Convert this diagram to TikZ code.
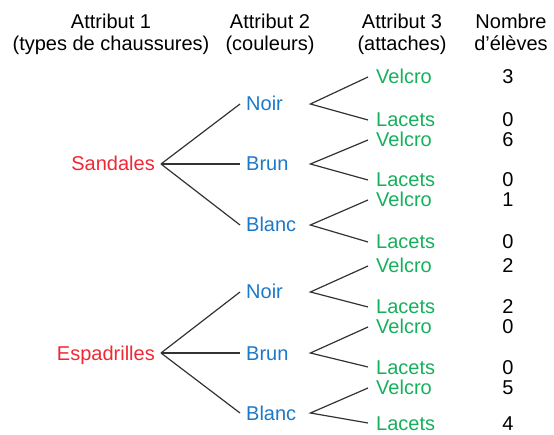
\documentclass[tikz,border=0pt]{standalone}
\usepackage{fontspec}
\setmainfont{Liberation Sans}
\definecolor{typered}{RGB}{240,40,52}
\definecolor{colblue}{RGB}{28,120,200}
\definecolor{attgreen}{RGB}{22,176,92}
\begin{document}
\begin{tikzpicture}[x=1pt,y=-1pt,
	lab/.style={font=\fontsize{20}{22}\selectfont, text height=14pt, text depth=0pt, inner ysep=0pt},
	head/.style={font=\fontsize{20}{22}\selectfont, align=center, anchor=north, inner sep=0pt},
	type/.style={lab, text=typered, anchor=east, inner xsep=6pt},
	colour/.style={lab, text=colblue, anchor=west, inner xsep=6pt, text width=58pt, align=left},
	attach/.style={lab, text=attgreen, anchor=west, inner xsep=8pt},
	count/.style={lab, inner xsep=0pt},
	branch/.style={draw=black!80, line width=1.2pt}]
	\useasboundingbox (0,0) rectangle (554,435);
	% column heads
	\node[head] (h1) at (111,14) {Attribut 1\\(types de chaussures)};
	\node[head] (h2) at (270,14) {Attribut 2\\(couleurs)};
	\node[head] (h3) at (402,14) {Attribut 3\\(attaches)};
	\node[head] (h4) at (511,14) {Nombre\\d'élèves};
	% sandales
	\node[type] (sand) at (161,164) {Sandales};
	\node[colour] (noir1) at (240,104) {Noir};
	\node[colour] (brun1) at (240,164) {Brun};
	\node[colour] (blanc1) at (240,225) {Blanc};
	\node[attach] (vel1) at (368,77) {Velcro};
	\node[attach] (lac1) at (368,120) {Lacets};
	\node[attach] (vel2) at (368,140) {Velcro};
	\node[attach] (lac2) at (368,180) {Lacets};
	\node[attach] (vel3) at (368,200) {Velcro};
	\node[attach] (lac3) at (368,242) {Lacets};
	\draw[branch] (sand.east) -- (noir1.west);
	\draw[branch] (sand.east) -- (brun1.west);
	\draw[branch] (sand.east) -- (blanc1.west);
	\draw[branch] (vel1.west) -- (noir1.east) -- (lac1.west);
	\draw[branch] (vel2.west) -- (brun1.east) -- (lac2.west);
	\draw[branch] (vel3.west) -- (blanc1.east) -- (lac3.west);
	% espadrilles
	\node[type] (espa) at (161,353) {Espadrilles};
	\node[colour] (noir2) at (240,292) {Noir};
	\node[colour] (brun2) at (240,353) {Brun};
	\node[colour] (blanc2) at (240,413) {Blanc};
	\node[attach] (vel4) at (368,266) {Velcro};
	\node[attach] (lac4) at (368,307) {Lacets};
	\node[attach] (vel5) at (368,327) {Velcro};
	\node[attach] (lac5) at (368,367) {Lacets};
	\node[attach] (vel6) at (368,388) {Velcro};
	\node[attach] (lac6) at (368,423) {Lacets};
	\draw[branch] (espa.east) -- (noir2.west);
	\draw[branch] (espa.east) -- (brun2.west);
	\draw[branch] (espa.east) -- (blanc2.west);
	\draw[branch] (vel4.west) -- (noir2.east) -- (lac4.west);
	\draw[branch] (vel5.west) -- (brun2.east) -- (lac5.west);
	\draw[branch] (vel6.west) -- (blanc2.east) -- (lac6.west);
	% nombre d'eleves
	\node[count] (c1) at (508,77) {3};
	\node[count] (c2) at (508,120) {0};
	\node[count] (c3) at (508,140) {6};
	\node[count] (c4) at (508,180) {0};
	\node[count] (c5) at (508,200) {1};
	\node[count] (c6) at (508,242) {0};
	\node[count] (c7) at (508,266) {2};
	\node[count] (c8) at (508,307) {2};
	\node[count] (c9) at (508,327) {0};
	\node[count] (c10) at (508,367) {0};
	\node[count] (c11) at (508,388) {5};
	\node[count] (c12) at (508,423) {4};
\end{tikzpicture}
\end{document}
